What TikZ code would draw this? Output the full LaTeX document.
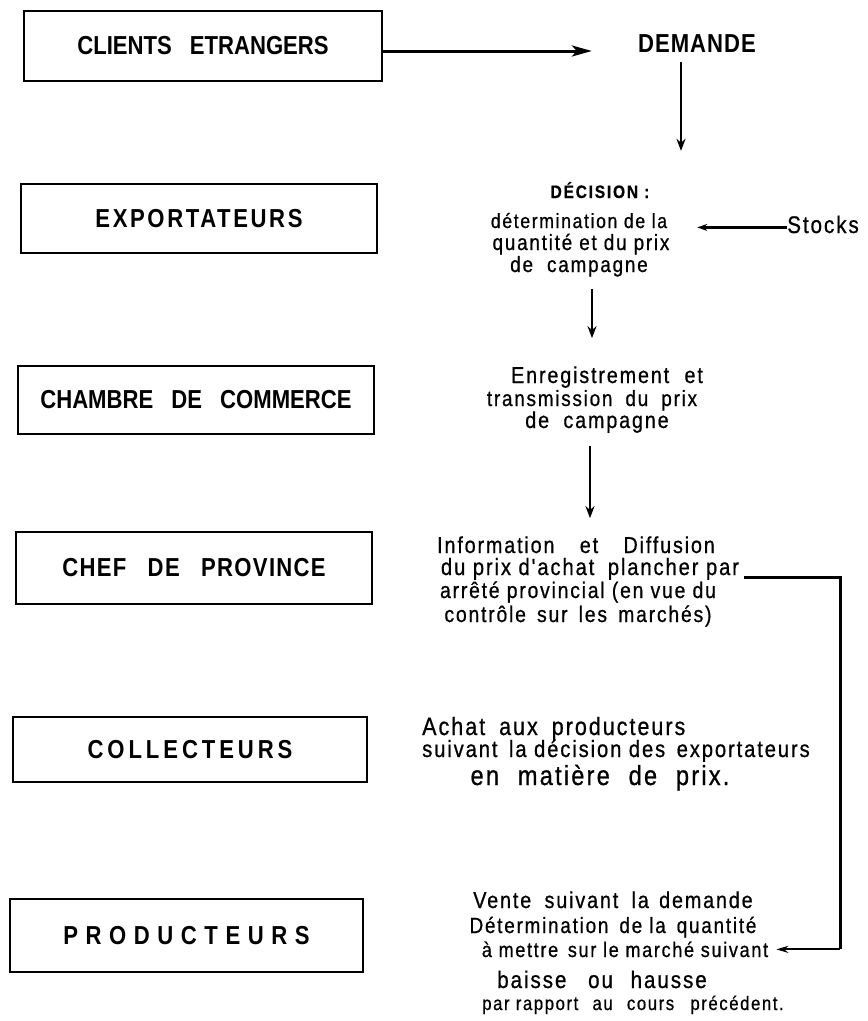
\documentclass[tikz,border=0pt]{standalone}
\usepackage{fontspec}
\setmainfont{Liberation Sans}
\newfontfamily\hand[LetterSpace=8,FakeStretch=0.86,FakeBold=0.7]{Liberation Sans}
\newfontfamily\boxf[FakeStretch=0.85]{Liberation Sans}
\usetikzlibrary{arrows.meta}
\newcommand\setfs[1]{\fontsize{#1pt}{#1pt}\selectfont}
\begin{document}
\begin{tikzpicture}[x=1pt,y=-1pt,
  box/.style={draw=black, line width=1.7pt, inner sep=0pt, font=\boxf\bfseries\setfs{26}},
  ln/.style={inner sep=0pt, anchor=base, font=\hand},
  arrv/.style={line width=2.8pt, -{Stealth[length=12pt,width=9pt]}},
  arrh/.style={line width=2.4pt, -{Stealth[length=10pt,width=7pt]}},
  arrbig/.style={line width=3pt, -{Stealth[length=20pt,width=11pt,inset=5pt]}},
  arrthin/.style={line width=1.9pt, -{Stealth[length=12pt,width=7pt]}},
  fbline/.style={line width=3pt}]
\useasboundingbox (0,0) rectangle (868,1021);

% ---- left column boxes
\node[box, minimum width=358pt, minimum height=70pt] (clients) at (203,46)
  {CLIENTS\hspace{18pt}ETRANGERS};
\node[box, minimum width=356pt, minimum height=69pt] (export) at (199,218.5)
  {\addfontfeature{LetterSpace=10}EXPORTATEURS};
\node[box, minimum width=356pt, minimum height=68pt] (chambre) at (196,400)
  {CHAMBRE\hspace{12pt} DE\hspace{12pt} COMMERCE};
\node[box, minimum width=356pt, minimum height=72pt] (chef) at (194,568)
  {\addfontfeature{LetterSpace=5}CHEF\hspace{14pt} DE\hspace{14pt} PROVINCE};
\node[box, minimum width=354pt, minimum height=65pt] (collect) at (190,749.5)
  {\addfontfeature{LetterSpace=15}COLLECTEURS};
\node[box, minimum width=353pt, minimum height=73pt] (prod) at (186.5,935.5)
  {\addfontfeature{LetterSpace=29}PRODUCTEURS};

% ---- right column texts
\node[ln, font=\boxf\bfseries\setfs{26}] (demande) at (697,52)
  {\addfontfeature{LetterSpace=4}DEMANDE};

\node[ln, font=\hand\bfseries\setfs{18}] (dec) at (600,198)
  {\addfontfeature{LetterSpace=10}DÉCISION :};
\node[ln, font=\hand\setfs{20.5}] (d1) at (579,228) {détermination de la};
\node[ln, font=\hand\setfs{22}] (d2) at (581,250) {quantité et du prix};
\node[ln, font=\hand\setfs{22}] (d3) at (579,272) {de\hspace{7pt} campagne};

\node[ln, font=\hand\setfs{24}] (stocks) at (823,233) {Stocks};

\node[ln, font=\hand\setfs{23}] (e1) at (607,383) {Enregistrement\hspace{8pt} et};
\node[ln, font=\hand\setfs{22}] (e2) at (592,406) {transmission\hspace{6pt} du\hspace{6pt} prix};
\node[ln, font=\hand\setfs{23}] (e3) at (597,428) {de\hspace{7pt} campagne};

\node[ln, font=\hand\setfs{23}] (i1) at (576,553) {Information\hspace{18pt} et\hspace{18pt} Diffusion};
\node[ln, font=\hand\setfs{23.5}] (i2) at (590,575) {du prix d'achat\hspace{6pt} plancher par};
\node[ln, font=\hand\setfs{22.5}] (i3) at (578,598) {arrêté provincial (en vue du};
\node[ln, font=\hand\setfs{22.5}] (i4) at (578,622) {contrôle\hspace{4pt} sur\hspace{4pt} les\hspace{4pt} marchés)};

\node[ln, anchor=base west, font=\hand\setfs{25}] (a1) at (422,735) {Achat\hspace{6pt} aux\hspace{6pt} producteurs};
\node[ln, anchor=base west, font=\hand\setfs{23.5}] (a2) at (422,757) {suivant\hspace{4pt} la décision des\hspace{4pt} exportateurs};
\node[ln, font=\hand\setfs{27.5}] (a3) at (600,785) {en\hspace{10pt} matière\hspace{10pt} de\hspace{10pt} prix.};

\node[ln, font=\hand\setfs{23}] (v1) at (613,908) {Vente\hspace{6pt} suivant\hspace{6pt} la\hspace{3pt} demande};
\node[ln, font=\hand\setfs{22}] (v2) at (613,933) {Détermination\hspace{4pt} de la\hspace{4pt} quantité};
\node[ln, font=\hand\setfs{21}] (v3) at (625,957) {à mettre\hspace{3pt} sur le marché suivant};
\node[ln, font=\hand\setfs{24}] (v4) at (602,988) {baisse\hspace{14pt} ou\hspace{10pt} hausse};
\node[ln, font=\hand\setfs{19.5}] (v5) at (633,1010) {par rapport\hspace{8pt} au\hspace{8pt} cours\hspace{10pt} précédent.};

% ---- columns for connectors
\coordinate (colA) at (681,0);
\coordinate (colB) at (592,0);
\coordinate (colC) at (590,0);
\coordinate (colR) at (840,0);

% ---- connectors
\draw[arrbig, shorten >=46pt] ([yshift=-5pt]clients.east) -- ([yshift=-5pt]clients.east -| demande.west);
\draw[arrv, shorten <=10pt, shorten >=31pt] (demande.south -| colA) -- (dec.north -| colA);
\draw[arrh, shorten >=30pt] ([yshift=-3pt]stocks.west) -- ([yshift=-3pt]stocks.west -| d1.east);
\draw[arrv, shorten <=12pt, shorten >=28pt] (d3.south -| colB) -- (e1.north -| colB);
\draw[arrv, shorten <=13pt, shorten >=18pt] (e3.south -| colC) -- (i1.north -| colC);

\coordinate (fbc) at (colR |- v3.east);
\draw[fbline] ([xshift=5pt,yshift=-2pt]i2.base east) -| (fbc);
\draw[arrthin, shorten >=8pt] (fbc) -- (v3.east);
\end{tikzpicture}
\end{document}
